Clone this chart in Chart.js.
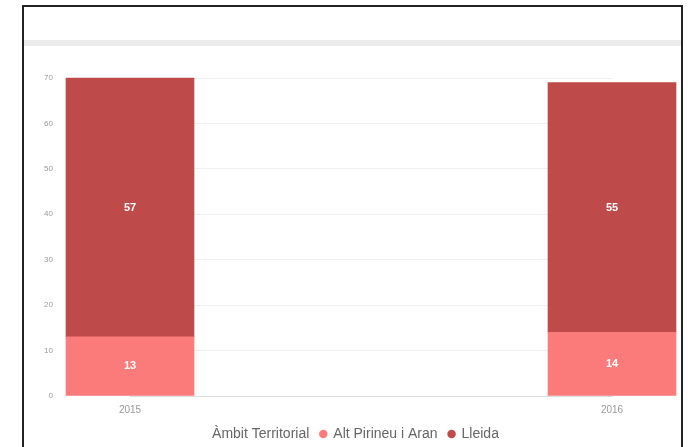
<!DOCTYPE html>
<html>
<head>
<meta charset="utf-8">
<script src="https://cdn.jsdelivr.net/npm/chart.js@4"></script>
<style>
  html, body { margin: 0; padding: 0; background: #fff; }
  #wrap { position: relative; width: 688px; height: 447px; overflow: hidden; }
  #frame { position: absolute; left: 22px; top: 5px; width: 661px; height: 460px; border: 2px solid #222; box-sizing: border-box; }
  #band { position: absolute; left: 24px; top: 40px; width: 657px; height: 6px; background: #ececec; }
  canvas { position: absolute; left: 0; top: 0; }
</style>
</head>
<body>
<div id="wrap">
  <div id="frame"></div>
  <div id="band"></div>
  <canvas id="chart" width="688" height="447"></canvas>
</div>
<script>
// data
const years = ['2015', '2016'];
const altPirineu = [13, 14];
const lleida = [57, 55];
const seriesNames = ['Alt Pirineu i Aran', 'Lleida'];
const legendTitle = 'Àmbit Territorial';
const yTicks = [0, 10, 20, 30, 40, 50, 60, 70];

const colLight = '#fb7b7b';
const colDark = '#bf4a4a';
const font = '"Liberation Sans", Arial, sans-serif';

// empty marker for the inline legend title
const blank = document.createElement('canvas');
blank.width = 1;
blank.height = 1;

// white value labels in the middle of each segment
const valueLabels = {
    id: 'valueLabels',
    afterDatasetsDraw(chart) {
        const ctx = chart.ctx;
        ctx.save();
        ctx.fillStyle = '#fff';
        ctx.font = 'bold 11px ' + font;
        ctx.textAlign = 'center';
        ctx.textBaseline = 'middle';
        chart.data.datasets.forEach((ds, i) => {
            chart.getDatasetMeta(i).data.forEach((bar, j) => {
                const p = bar.getCenterPoint();
                ctx.fillText(ds.data[j], p.x, p.y);
            });
        });
        ctx.restore();
    }
};

new Chart(document.getElementById('chart'), {
    type: 'bar',
    data: {
        labels: years,
        datasets: [
            { label: seriesNames[0], data: altPirineu, backgroundColor: colLight, borderWidth: 0, clip: false, barThickness: 128 },
            { label: seriesNames[1], data: lleida, backgroundColor: colDark, borderWidth: 0, clip: false, barThickness: 128 }
        ]
    },
    options: {
        responsive: false,
        animation: false,
        layout: { padding: { left: 40, right: 30, top: 78, bottom: 0 } },
        plugins: {
            tooltip: { enabled: false },
            legend: {
                position: 'bottom',
                maxHeight: 31,
                labels: {
                    usePointStyle: true,
                    boxWidth: 6,
                    boxHeight: 6,
                    padding: 11,
                    color: '#666',
                    font: { family: font, size: 14 },
                    generateLabels(chart) {
                        const items = Chart.defaults.plugins.legend.labels.generateLabels(chart);
                        items.forEach(it => { it.pointStyle = 'circle'; });
                        items.unshift({
                            text: legendTitle,
                            fillStyle: 'rgba(0,0,0,0)',
                            strokeStyle: 'rgba(0,0,0,0)',
                            fontColor: '#666',
                            lineWidth: 0,
                            pointStyle: blank,
                            hidden: false,
                            datasetIndex: -1
                        });
                        return items;
                    }
                }
            }
        },
        scales: {
            x: {
                stacked: true,
                offset: false,
                grid: { display: false, tickLength: 8 },
                border: { display: true, color: '#ddd' },
                ticks: { color: '#999', padding: 0, font: { family: font, size: 10 } }
            },
            y: {
                stacked: true,
                min: 0,
                max: yTicks[yTicks.length - 1],
                afterBuildTicks(axis) { axis.ticks = yTicks.map(v => ({ value: v })); },
                afterFit(axis) { axis.width = 90; axis.paddingTop = 4; axis.paddingBottom = 4; },
                grid: { color: '#efefef', drawTicks: false },
                border: { display: false },
                ticks: { color: '#999', padding: 77, font: { family: font, size: 8 } }
            },
            // empty right axis, only reserves the space on the right
            y2: {
                position: 'right',
                min: 0,
                max: yTicks[yTicks.length - 1],
                afterFit(axis) { axis.width = 46; axis.paddingTop = 0; axis.paddingBottom = 0; },
                grid: { display: false },
                border: { display: false },
                ticks: { display: false }
            }
        }
    },
    plugins: [valueLabels]
});
</script>
</body>
</html>
